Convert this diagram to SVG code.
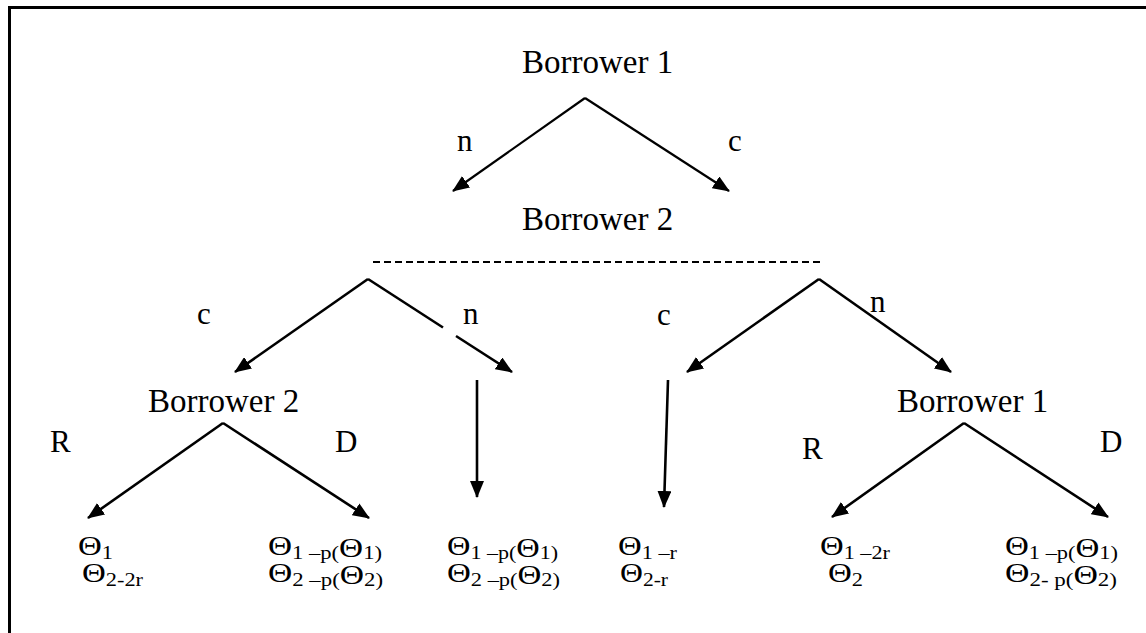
<svg xmlns="http://www.w3.org/2000/svg" width="1146" height="633" viewBox="0 0 1146 633">
  <style>
    .frame { fill: none; stroke: #000; stroke-width: 3; }
    .title { font-family: "Liberation Serif", "Times New Roman", serif; font-size: 33px; fill: #000; }
    .lab { font-family: "Liberation Serif", "Times New Roman", serif; font-size: 31px; fill: #000; }
    .pay { font-family: "Liberation Serif", "Times New Roman", serif; font-size: 28px; fill: #000; }
    .sub { font-size: 19px; }
    .edge { fill: none; stroke: #000; stroke-width: 2.6; }
    .thin { stroke-width: 2.2; }
    .dash { fill: none; stroke: #000; stroke-width: 2; stroke-dasharray: 7 4; }
  </style>
  <defs>
    <marker id="head" markerUnits="userSpaceOnUse" markerWidth="17" markerHeight="14" refX="16" refY="7" orient="auto">
      <path d="M0,0 L17,7 L0,14 z" fill="#000"/>
    </marker>
  </defs>

  <rect width="1146" height="633" fill="#fff"/>
  <!-- page frame: top and left rules -->
  <path class="frame" d="M9.5,633 V7.5 H1146"/>

  <!-- decision nodes -->
  <g id="root"><text class="title" x="522" y="73">Borrower 1</text></g>
  <g id="second"><text class="title" x="522" y="230">Borrower 2</text></g>
  <g id="info-set"><line class="dash" x1="373" y1="262" x2="823" y2="262"/></g>
  <g id="b2-left"><text class="title" x="148" y="412">Borrower 2</text></g>
  <g id="b1-right"><text class="title" x="897" y="412">Borrower 1</text></g>

  <!-- connectors -->
  <g id="connectors">
    <line class="edge thin" x1="585" y1="98" x2="453" y2="191" marker-end="url(#head)"/>
    <line class="edge thin" x1="585" y1="98" x2="729" y2="191" marker-end="url(#head)"/>

    <line class="edge" x1="368" y1="279" x2="235" y2="372" marker-end="url(#head)"/>
    <line class="edge" x1="368" y1="279" x2="443" y2="327.5"/>
    <line class="edge" x1="456" y1="336" x2="512" y2="372" marker-end="url(#head)"/>

    <line class="edge" x1="819" y1="279" x2="687" y2="372" marker-end="url(#head)"/>
    <line class="edge" x1="819" y1="279" x2="951" y2="372" marker-end="url(#head)"/>

    <line class="edge" x1="477" y1="380" x2="477" y2="497" marker-end="url(#head)"/>
    <line class="edge" x1="668" y1="380" x2="664" y2="507" marker-end="url(#head)"/>

    <line class="edge" x1="223" y1="423" x2="88" y2="518" marker-end="url(#head)"/>
    <line class="edge" x1="223" y1="423" x2="369" y2="518" marker-end="url(#head)"/>

    <line class="edge" x1="964" y1="423" x2="832" y2="517" marker-end="url(#head)"/>
    <line class="edge" x1="964" y1="423" x2="1108" y2="517" marker-end="url(#head)"/>
  </g>

  <!-- action labels -->
  <g id="action-labels">
    <text class="lab" x="457" y="151">n</text>
    <text class="lab" x="728" y="151">c</text>
    <text class="lab" x="197" y="324">c</text>
    <text class="lab" x="463" y="324">n</text>
    <text class="lab" x="657" y="325">c</text>
    <text class="lab" x="870" y="312">n</text>
    <text class="lab" x="50" y="452">R</text>
    <text class="lab" x="335" y="452">D</text>
    <text class="lab" x="802" y="459">R</text>
    <text class="lab" x="1100" y="452">D</text>
  </g>

  <!-- payoffs -->
  <g id="payoff-cr">
    <text class="pay" x="78" y="555" textLength="35" lengthAdjust="spacingAndGlyphs">Θ<tspan class="sub" dy="4">1</tspan></text>
    <text class="pay" x="82" y="582" textLength="61" lengthAdjust="spacingAndGlyphs">Θ<tspan class="sub" dy="4">2-2r</tspan></text>
  </g>
  <g id="payoff-cd">
    <text class="pay" x="268" y="555" textLength="114" lengthAdjust="spacingAndGlyphs">Θ<tspan class="sub" dy="4">1 –p(</tspan><tspan dy="-2">Θ</tspan><tspan class="sub" dy="2">1)</tspan></text>
    <text class="pay" x="268" y="582" textLength="115" lengthAdjust="spacingAndGlyphs">Θ<tspan class="sub" dy="4">2 –p(</tspan><tspan dy="-2">Θ</tspan><tspan class="sub" dy="2">2)</tspan></text>
  </g>
  <g id="payoff-cn">
    <text class="pay" x="447" y="555" textLength="111" lengthAdjust="spacingAndGlyphs">Θ<tspan class="sub" dy="4">1 –p(</tspan><tspan dy="-2">Θ</tspan><tspan class="sub" dy="2">1)</tspan></text>
    <text class="pay" x="447" y="582" textLength="113" lengthAdjust="spacingAndGlyphs">Θ<tspan class="sub" dy="4">2 –p(</tspan><tspan dy="-2">Θ</tspan><tspan class="sub" dy="2">2)</tspan></text>
  </g>
  <g id="payoff-nc">
    <text class="pay" x="618" y="555" textLength="59" lengthAdjust="spacingAndGlyphs">Θ<tspan class="sub" dy="4">1 –r</tspan></text>
    <text class="pay" x="620" y="582" textLength="48" lengthAdjust="spacingAndGlyphs">Θ<tspan class="sub" dy="4">2-r</tspan></text>
  </g>
  <g id="payoff-nr">
    <text class="pay" x="820" y="555" textLength="70" lengthAdjust="spacingAndGlyphs">Θ<tspan class="sub" dy="4">1 –2r</tspan></text>
    <text class="pay" x="828" y="582" textLength="35" lengthAdjust="spacingAndGlyphs">Θ<tspan class="sub" dy="4">2</tspan></text>
  </g>
  <g id="payoff-nd">
    <text class="pay" x="1005" y="555" textLength="113" lengthAdjust="spacingAndGlyphs">Θ<tspan class="sub" dy="4">1 –p(</tspan><tspan dy="-2">Θ</tspan><tspan class="sub" dy="2">1)</tspan></text>
    <text class="pay" x="1005" y="582" textLength="112" lengthAdjust="spacingAndGlyphs">Θ<tspan class="sub" dy="4">2- p(</tspan><tspan dy="-2">Θ</tspan><tspan class="sub" dy="2">2)</tspan></text>
  </g>
</svg>
